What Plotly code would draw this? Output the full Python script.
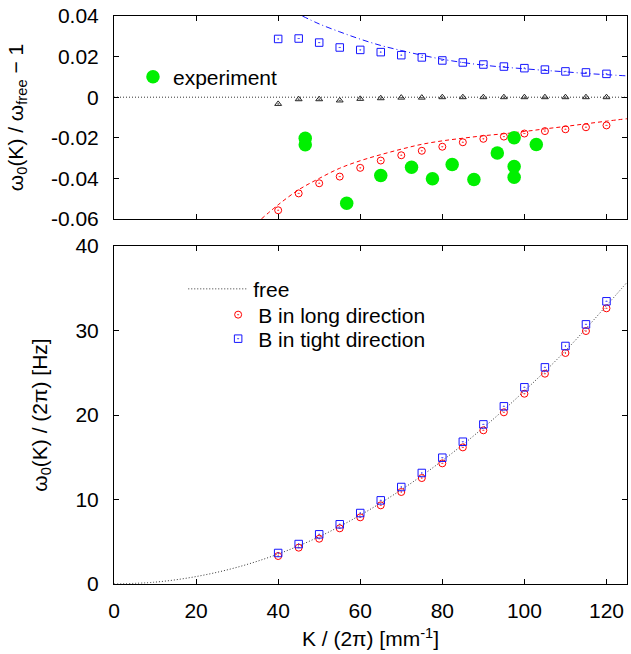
import plotly.graph_objects as go

# ---------------- data ----------------
K_pts = [40, 45, 50, 55, 60, 65, 70, 75, 80, 85, 90, 95, 100, 105, 110, 115, 120]

# top panel: relative deviation  w0/wfree - 1
blue_rel = [0.0287, 0.0289, 0.0269, 0.0245, 0.0233, 0.0222, 0.0207, 0.0196, 0.0181,
            0.0171, 0.0161, 0.0151, 0.0143, 0.0136, 0.0127, 0.0122, 0.0115]
red_rel = [-0.0557, -0.0474, -0.0424, -0.0391, -0.0348, -0.0312, -0.0286, -0.0264, -0.0244,
           -0.0222, -0.0205, -0.0194, -0.0179, -0.0167, -0.0158, -0.0148, -0.0139]
tri_rel = [-0.0033, -0.0010, -0.0010, -0.0016, -0.0008, -0.0005, -0.0002, -0.0002, 0.0,
           0.0, 0.0, 0.0, 0.0, 0.0, 0.0, 0.0, 0.0]

exp_K = [46.6, 46.6, 56.7, 65.0, 72.5, 77.6, 82.4, 87.7, 93.4, 97.5, 97.5, 97.5, 102.9]
exp_rel = [-0.0202, -0.0234, -0.0522, -0.0386, -0.0345, -0.0402, -0.0332, -0.0405,
           -0.0275, -0.0200, -0.0341, -0.0394, -0.0233]

red_curve_K = [35.9, 40, 45, 50, 55, 60, 65, 70, 75, 80, 85, 90, 95, 100, 105, 110, 115, 120, 125]
red_curve_rel = [-0.060, -0.0530, -0.0456, -0.0400, -0.0350, -0.0313, -0.0283, -0.0256, -0.0232,
                 -0.0215, -0.0202, -0.0190, -0.0180, -0.0169, -0.0156, -0.0144, -0.0131, -0.0118, -0.0106]

blue_curve_K = [45.9, 50, 55, 60, 65, 70, 75, 80, 85, 90, 95, 100, 105, 110, 115, 120, 125]
blue_curve_rel = [0.040, 0.0361, 0.0322, 0.0286, 0.0255, 0.0230, 0.0207, 0.0187, 0.0171,
                  0.0158, 0.0148, 0.0140, 0.0132, 0.0125, 0.0117, 0.0111, 0.0105]

free_rel_K = [0, 125]
free_rel = [0, 0]

# bottom panel: absolute frequency  w0/(2 pi)  [Hz]
blue_abs = [3.67, 4.73, 5.88, 7.07, 8.40, 9.90, 11.48, 13.14, 14.95, 16.84, 18.89, 21.03,
            23.28, 25.64, 28.17, 30.73, 33.46]
red_abs = [3.31, 4.30, 5.36, 6.59, 7.89, 9.31, 10.89, 12.54, 14.28, 16.17, 18.19, 20.32,
           22.52, 24.89, 27.34, 29.94, 32.63]

free_K = [0, 10, 20, 30, 40, 50, 60, 70, 80, 90, 100, 110, 120, 125]
free_f = [0, 0.22, 0.88, 1.98, 3.55, 5.6, 8.15, 11.15, 14.6, 18.5, 22.85, 27.6, 32.95, 35.7]

x_ticks = [0, 20, 40, 60, 80, 100, 120]
x_ticktext = ["0", "20", "40", "60", "80", "100", "120"]
ytop_ticks = [-0.06, -0.04, -0.02, 0, 0.02, 0.04]
ytop_ticktext = ["-0.06", "-0.04", "-0.02", "0", "0.02", "0.04"]
ybot_ticks = [0, 10, 20, 30, 40]
ybot_ticktext = ["0", "10", "20", "30", "40"]

# ---------------- figure ----------------
FONT = "Liberation Sans, Arial, sans-serif"
RED = "#ff0000"
BLUE = "#1515ff"
GREEN = "#00f000"
DOT = "1px,2px"

fig = go.Figure()

# top panel
fig.add_trace(go.Scatter(x=free_rel_K, y=free_rel, mode="lines",
                         line=dict(color="#333333", width=1, dash=DOT),
                         showlegend=False, xaxis="x", yaxis="y"))
fig.add_trace(go.Scatter(x=red_curve_K, y=red_curve_rel, mode="lines", line_shape="spline",
                         line=dict(color=RED, width=1, dash="4px,3px"),
                         showlegend=False, xaxis="x", yaxis="y"))
fig.add_trace(go.Scatter(x=blue_curve_K, y=blue_curve_rel, mode="lines", line_shape="spline",
                         line=dict(color=BLUE, width=1, dash="6px,3px,1px,3px"),
                         showlegend=False, xaxis="x", yaxis="y"))
fig.add_trace(go.Scatter(x=K_pts, y=tri_rel, mode="markers",
                         marker=dict(symbol="triangle-up-open-dot", size=6, color="#222222",
                                     line=dict(width=1)),
                         showlegend=False, xaxis="x", yaxis="y"))
fig.add_trace(go.Scatter(x=K_pts, y=red_rel, mode="markers",
                         marker=dict(symbol="circle-open-dot", size=7, color=RED,
                                     line=dict(width=1)),
                         showlegend=False, xaxis="x", yaxis="y"))
fig.add_trace(go.Scatter(x=K_pts, y=blue_rel, mode="markers",
                         marker=dict(symbol="square-open-dot", size=7.5, color=BLUE,
                                     line=dict(width=1)),
                         showlegend=False, xaxis="x", yaxis="y"))
fig.add_trace(go.Scatter(x=exp_K, y=exp_rel, mode="markers", name="experiment",
                         marker=dict(symbol="circle", size=13.5, color=GREEN),
                         legend="legend", xaxis="x", yaxis="y"))

# bottom panel
fig.add_trace(go.Scatter(x=free_K, y=free_f, mode="lines", line_shape="spline", name="free",
                         line=dict(color="#333333", width=1, dash=DOT),
                         legend="legend2", xaxis="x2", yaxis="y2"))
fig.add_trace(go.Scatter(x=K_pts, y=red_abs, mode="markers", name="B in long direction",
                         marker=dict(symbol="circle-open-dot", size=7, color=RED,
                                     line=dict(width=1)),
                         legend="legend3", xaxis="x2", yaxis="y2"))
fig.add_trace(go.Scatter(x=K_pts, y=blue_abs, mode="markers", name="B in tight direction",
                         marker=dict(symbol="square-open-dot", size=7.5, color=BLUE,
                                     line=dict(width=1)),
                         legend="legend4", xaxis="x2", yaxis="y2"))

axis_common = dict(showline=True, linecolor="black", linewidth=1, mirror="ticks",
                   ticks="inside", ticklen=5, tickcolor="black", showgrid=False,
                   zeroline=False, tickfont=dict(size=21, color="black", family=FONT))

leg_common = dict(xanchor="left", yanchor="middle", bgcolor="rgba(0,0,0,0)",
                  font=dict(size=21))

fig.update_layout(
    width=631, height=654,
    margin=dict(l=114, r=4, t=16, b=70),
    paper_bgcolor="white", plot_bgcolor="white",
    font=dict(family=FONT, size=21, color="black"),
    xaxis=dict(axis_common, anchor="y", range=[0, 125], tickvals=x_ticks,
               showticklabels=False, domain=[0, 1]),
    yaxis=dict(axis_common, anchor="x", range=[-0.06, 0.04], domain=[0.6426, 1],
               tickvals=ytop_ticks, ticktext=ytop_ticktext, ticklabelstandoff=10,
               title=dict(text="ω<sub>0</sub>(K) / ω<sub>free</sub> − 1", standoff=21,
                          font=dict(size=21))),
    xaxis2=dict(axis_common, anchor="y2", range=[0, 125], tickvals=x_ticks,
                ticktext=x_ticktext, ticklabelstandoff=8, domain=[0, 1],
                title=dict(text="K / (2π) [mm<sup>-1</sup>]", standoff=10,
                           font=dict(size=21))),
    yaxis2=dict(axis_common, anchor="x2", range=[0, 40], domain=[0, 0.595],
                tickvals=ybot_ticks, ticktext=ybot_ticktext, ticklabelstandoff=10,
                title=dict(text="ω<sub>0</sub>(K) / (2π) [Hz]", standoff=22,
                           font=dict(size=21))),
    legend=dict(leg_common, x=0.037, y=0.8926),
    legend2=dict(leg_common, x=0.135, y=0.519, itemwidth=60),
    legend3=dict(leg_common, x=0.203, y=0.4736),
    legend4=dict(leg_common, x=0.203, y=0.4313),
)

fig.write_html("out.html", config={"displayModeBar": False},
               post_script="document.body.style.margin='0';")
